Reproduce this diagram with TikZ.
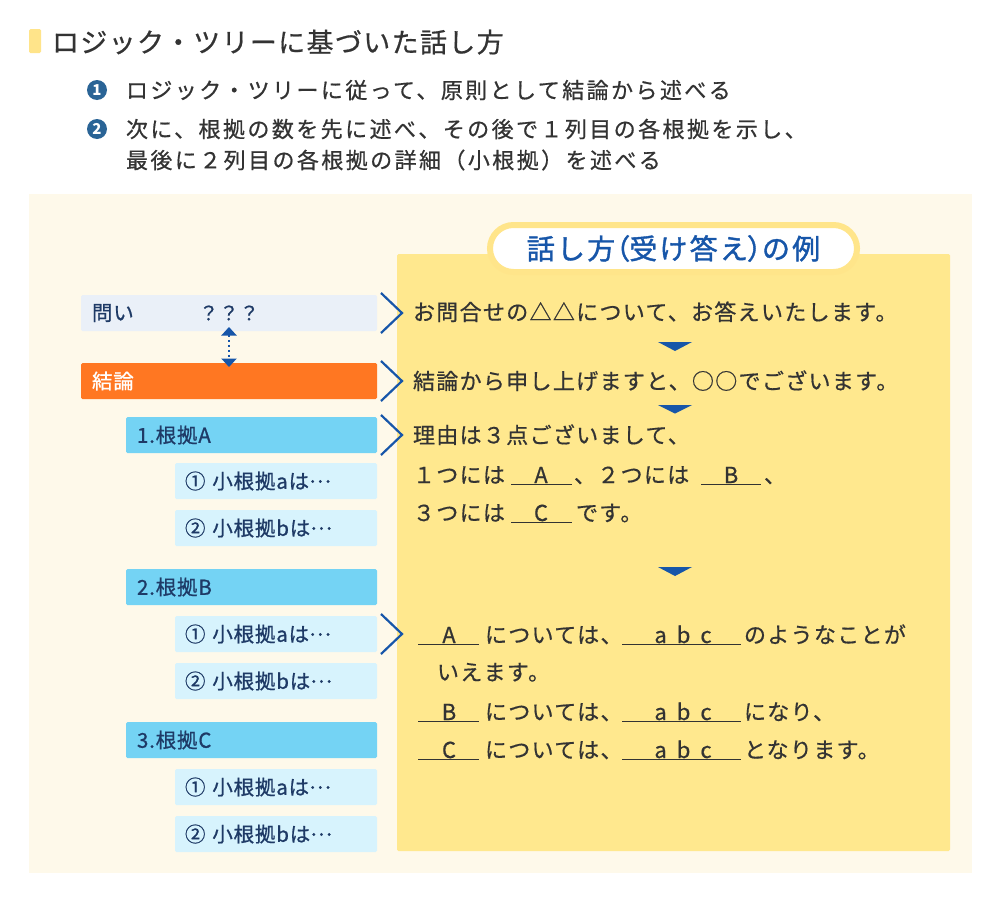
\documentclass[tikz,border=0pt]{standalone}
\usepackage{fontspec}
\setmainfont{Noto Sans CJK JP}
\newfontfamily\jpT[LetterSpace=5,FakeBold=0.6]{Noto Sans CJK JP}
\newfontfamily\jpB[LetterSpace=11,FakeBold=0.6]{Noto Sans CJK JP}
\newfontfamily\jpP[LetterSpace=6,FakeBold=0.6]{Noto Sans CJK JP}
\newfontfamily\jpL[LetterSpace=4,FakeBold=0.8]{Noto Sans CJK JP}
\newfontfamily\jpH[LetterSpace=8,FakeBold=1.4]{Noto Sans CJK JP}
\newfontfamily\jpHp[LetterSpace=8,FakeBold=1.4,RawFeature=+palt]{Noto Sans CJK JP}
\usetikzlibrary{arrows.meta}
\definecolor{cream}{HTML}{FEF9EA}
\definecolor{panel}{HTML}{FFE88E}
\definecolor{pillb}{HTML}{FFE58A}
\definecolor{titlebar}{HTML}{FFE48A}
\definecolor{orng}{HTML}{FF7722}
\definecolor{bbox}{HTML}{74D3F4}
\definecolor{lbox}{HTML}{D7F3FD}
\definecolor{qfill}{HTML}{EAF0F8}
\definecolor{tblue}{HTML}{1756A9}
\definecolor{bulc}{HTML}{2A6496}
\definecolor{txt}{HTML}{333333}
\definecolor{navy}{HTML}{1E3A66}
\newcommand{\mydots}{\raisebox{0.3em}{…}}
\tikzset{
  boxbase/.style={anchor=north west, minimum height=36pt, inner ysep=0pt, align=left,
     rounded corners=1.5pt, text=navy, font=\jpL\fontsize{20.5pt}{22pt}\selectfont},
  qbox/.style={boxbase, fill=qfill, inner xsep=11pt, text width=274pt},
  cbox/.style={boxbase, fill=orng, inner xsep=11pt, text width=274pt, text=white},
  rbox/.style={boxbase, fill=bbox, inner xsep=11pt, text width=229pt},
  sbox/.style={boxbase, fill=lbox, inner xsep=10pt, text width=182pt},
  chev/.style={draw=tblue, line width=2.2pt},
  dblarrow/.style={draw=tblue, line width=2.6pt, dash pattern=on 2.4pt off 2.6pt,
     arrows={Triangle[width=15pt,length=8.5pt]-Triangle[width=15pt,length=8.5pt]},
     shorten <=-4pt, shorten >=-4pt},
  dtri/.style={fill=tblue},
  ptxt/.style={anchor=base west, text=txt, font=\jpP\fontsize{22pt}{24pt}\selectfont},
  pctr/.style={anchor=base, text=txt, font=\jpP\fontsize{22pt}{24pt}\selectfont},
  uline/.style={draw=txt, line width=1.3pt},
  btxt/.style={anchor=base west, text=txt, font=\jpB\fontsize{22pt}{24pt}\selectfont},
  bul/.style={circle, fill=bulc, minimum size=20pt, text=white,
     font=\bfseries\fontsize{15pt}{15pt}\selectfont},
  pill/.style={draw=pillb, line width=6pt, fill=white, rounded corners=23.5pt,
     minimum width=367pt, minimum height=47pt, text=tblue,
     font=\jpH\fontsize{28pt}{30pt}\selectfont}
}
\begin{document}
\begin{tikzpicture}[x=1pt,y=-1pt, every node/.style={inner sep=0pt, outer sep=0pt}]
\useasboundingbox (0,0) rectangle (1000,902);
\fill[white] (0,0) rectangle (1000,902);
\fill[cream] (29,194) rectangle (972,873);
\fill[panel, rounded corners=1.5pt] (397,254) rectangle (950,851);

% heading
\fill[titlebar, rounded corners=1.5pt] (29,29) rectangle (41,53);
\node[anchor=base west, text=txt, font=\jpT\fontsize{27pt}{30pt}\selectfont] (title) at (52,52.3) {ロジック・ツリーに基づいた話し方};

\node[bul] (b1) at (97,90) {1};
\node[btxt] (t1) at (126,98.4) {ロジック・ツリーに従って、原則として結論から述べる};
\node[bul] (b2) at (97,129) {2};
\node[btxt] (t2) at (126,137.4) {次に、根拠の数を先に述べ、その後で１列目の各根拠を示し、};
\node[btxt] (t3) at (126,168.4) {最後に２列目の各根拠の詳細（小根拠）を述べる};

% pill
\node[pill] (pt) at (673.5,248.5) {話し方{\jpHp（}受け答え{\jpHp）}の例};

% left tree
\node[qbox] (q) at (81,295) {問い};
\node[anchor=west, text=navy, font=\jpL\fontsize{19.5pt}{21pt}\selectfont] (qq) at (199,313) {？？？};
\node[cbox] (c) at (81,363) {結論};
\node[rbox] (r1) at (126,417) {1.根拠A};
\node[sbox] (s11) at (175,463) {① 小根拠aは\mydots};
\node[sbox] (s12) at (175,510) {② 小根拠bは\mydots};
\node[rbox] (r2) at (126,569) {2.根拠B};
\node[sbox] (s21) at (175,616) {① 小根拠aは\mydots};
\node[sbox] (s22) at (175,663) {② 小根拠bは\mydots};
\node[rbox] (r3) at (126,722) {3.根拠C};
\node[sbox] (s31) at (175,769) {① 小根拠aは\mydots};
\node[sbox] (s32) at (175,816) {② 小根拠bは\mydots};

\coordinate (qm) at (229,0);
\draw[dblarrow] (q.south -| qm) -- (c.north -| qm);

\foreach \n in {q,c,r1,s21}{
  \draw[chev] ([xshift=4pt,yshift=2pt]\n.north east) -- ([xshift=25pt]\n.east) -- ([xshift=4pt,yshift=-2pt]\n.south east);
}

% panel text
\node[ptxt] (l1) at (413,320.3) {お問合せの△△について、お答えいたします。};
\fill[dtri] (658,342) -- (692,342) -- (675,351) -- cycle;
\node[ptxt] (l2) at (413,389.3) {結論から申し上げますと、○○でございます。};
\fill[dtri] (658,405) -- (692,405) -- (675,413.5) -- cycle;
\node[ptxt] (l3) at (413,443.3) {理由は３点ございまして、};
\node[ptxt] (l4a) at (413,483) {１つには};
\node[pctr] (l4A) at (541,483) {A};
\node[ptxt] (l4b) at (574,483) {、２つには};
\node[pctr] (l4B) at (731,483) {B};
\node[ptxt] (l4c) at (764,483) {、};
\draw[uline] (511,484.5) -- (572,484.5);
\draw[uline] (701,484.5) -- (761,484.5);
\node[ptxt] (l5a) at (413,521) {３つには};
\node[pctr] (l5C) at (541,521) {C};
\node[ptxt] (l5b) at (576,521) {です。};
\draw[uline] (511,522.5) -- (572,522.5);

\fill[dtri] (658,567) -- (692,567) -- (675,576) -- cycle;

\node[pctr] (mA) at (449,643) {A};
\node[ptxt] (mA1) at (485,643) {については、};
\node[pctr] (mA2) at (683,643) {a\hspace{10pt}b\hspace{10pt}c};
\node[ptxt] (mA3) at (744,643) {のようなことが};
\draw[uline] (418,644.5) -- (479,644.5);
\draw[uline] (622,644.5) -- (741,644.5);
\node[ptxt] (mA4) at (437,680.3) {いえます。};

\node[pctr] (mB) at (449,720) {B};
\node[ptxt] (mB1) at (485,720) {については、};
\node[pctr] (mB2) at (683,720) {a\hspace{10pt}b\hspace{10pt}c};
\node[ptxt] (mB3) at (744,720) {になり、};
\draw[uline] (418,721.5) -- (479,721.5);
\draw[uline] (622,721.5) -- (741,721.5);

\node[pctr] (mC) at (449,758) {C};
\node[ptxt] (mC1) at (485,758) {については、};
\node[pctr] (mC2) at (683,758) {a\hspace{10pt}b\hspace{10pt}c};
\node[ptxt] (mC3) at (744,758) {となります。};
\draw[uline] (418,759.5) -- (479,759.5);
\draw[uline] (622,759.5) -- (741,759.5);
\end{tikzpicture}
\end{document}
